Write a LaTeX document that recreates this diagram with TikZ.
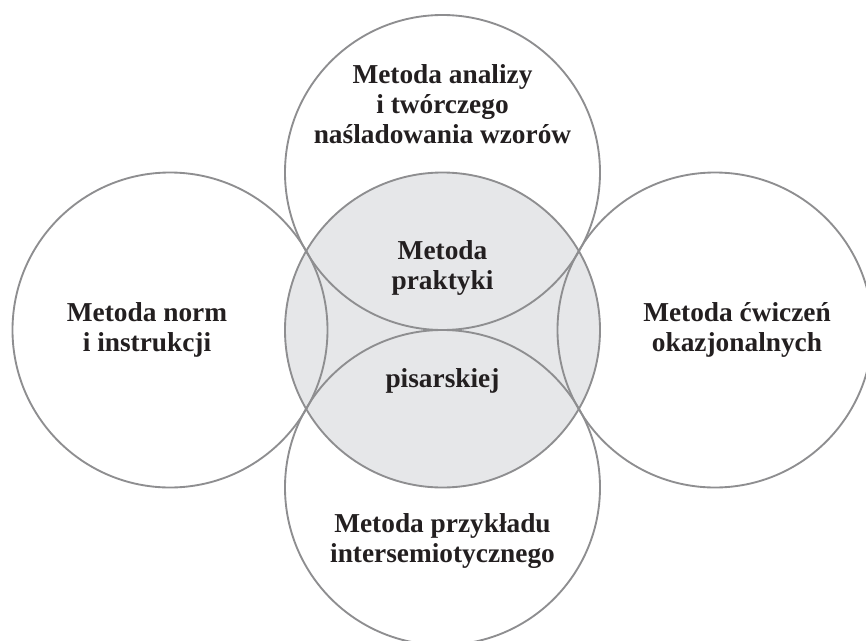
\documentclass[tikz,border=0pt]{standalone}
\usepackage{fontspec}
\setmainfont{Liberation Serif}
\usetikzlibrary{positioning}

\definecolor{ringgray}{HTML}{8E8E90}
\definecolor{corefill}{HTML}{E6E7E9}
\definecolor{inktext}{HTML}{231F20}

\begin{document}
\begin{tikzpicture}[x=0.75pt, y=0.75pt]
          \tikzstyle{ring}=[draw=ringgray, circle, line width=1.4pt, inner sep=0pt, minimum size=236.25pt]
          \tikzstyle{caption}=[align=center, text=inktext, font=\bfseries\fontsize{20.5pt}{22.5pt}\selectfont]

          \useasboundingbox (-442.5, -310) rectangle (423.5, 330);

          \node (core) at (0, 0) [ring, fill=corefill] {};
          \node (top) at (0, 157.5) [ring] {};
          \node (bottom) at (0, -157.5) [ring] {};
          \node (left) at (-272.5, 0) [ring] {};
          \node (right) at (272.5, 0) [ring] {};

          \node (coreT) at (0, 13) [caption] {Metoda\\praktyki\\[51pt]pisarskiej};
          \node (topT) at (0, 226) [caption] {Metoda analizy\\i twórczego\\naśladowania wzorów};
          \node (leftT) at (-295.5, 0) [caption] {Metoda norm\\i instrukcji};
          \node (rightT) at (294.5, 0) [caption] {Metoda ćwiczeń\\okazjonalnych};
          \node (bottomT) at (0, -211) [caption] {Metoda przykładu\\intersemiotycznego};
        \end{tikzpicture}
\end{document}
